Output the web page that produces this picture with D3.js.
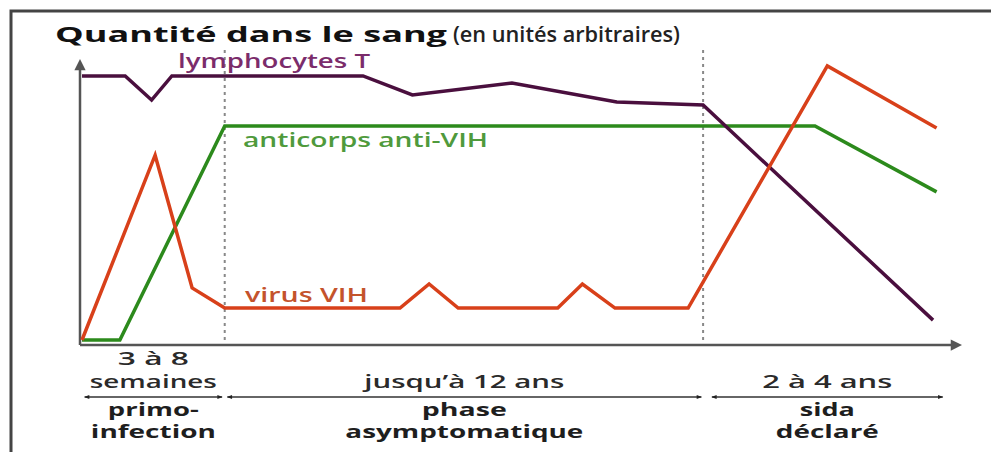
<!DOCTYPE html>
<html>
<head>
<meta charset="utf-8">
<script src="https://cdn.jsdelivr.net/npm/d3@7"></script>
<style>
  body { margin: 0; background: #fff; }
  text { font-family: "Open Sans", "Noto Sans", sans-serif; }
</style>
</head>
<body>
<div class="chart"></div>
<script>
var svgWidth = 991;
var svgHeight = 452;

// data (arbitrary time units 0-100, arbitrary quantity 0-100)
var lymphoX = [0, 4.9, 7.9, 10.2, 31.9, 37.5, 48.8, 60.7, 70.5, 96.6];
var lymphoY = [94.3, 94.3, 85.7, 94.3, 94.3, 87.5, 91.8, 85, 83.9, 7.1];

var anticorpsX = [0, 4.3, 16.2, 83.2, 97.0];
var anticorpsY = [0, 0, 76.4, 76.4, 52.9];

var virusX = [0, 8.3, 12.5, 16.2, 36.1, 39.4, 42.7, 54.0, 56.8, 60.5, 68.8, 84.6, 97.0];
var virusY = [0, 66, 18.6, 11.4, 11.4, 20, 11.4, 11.4, 20, 11.4, 11.4, 97.9, 75.7];

var phaseBounds = [16.2, 70.5];
var phaseStart = [0.3, 16.5, 71.5];
var phaseEnd = [15.9, 70.3, 97.7];
var durationLabels = [["3 à 8", "semaines"], ["jusqu\u2019à 12 ans"], ["2 à 4 ans"]];
var phaseLabels = [["primo-", "infection"], ["phase", "asymptomatique"], ["sida", "déclaré"]];

var svg = d3.select(".chart")
  .append("svg")
  .attr("width", svgWidth)
  .attr("height", svgHeight);

var x = d3.scaleLinear().domain([0, 100]).range([82, 963]);
var y = d3.scaleLinear().domain([0, 100]).range([340, 60]);

var axisY = 345;
var axisX = 80;

// text helper, stretched to the width seen in the reference
function addText(str, tx, ty, size, weight, color, len, anchor) {
  return svg.append("text")
    .attr("x", tx)
    .attr("y", ty)
    .attr("font-size", size)
    .attr("font-weight", weight)
    .attr("fill", color)
    .attr("text-anchor", anchor || "start")
    .attr("textLength", len)
    .attr("lengthAdjust", "spacingAndGlyphs")
    .text(str);
}

// frame
svg.append("path")
  .attr("d", "M11,452 L11,11 L991,11")
  .attr("fill", "none")
  .attr("stroke", "#444")
  .attr("stroke-width", 3);

// title
addText("Quantité dans le sang", 55, 42, 21, "bold", "#111", 392);
addText("(en unités arbitraires)", 453, 42, 21, 600, "#222", 227);

// arrow markers
var defs = svg.append("defs");
defs.append("marker")
  .attr("id", "axisArrow")
  .attr("viewBox", "0 0 10 10")
  .attr("refX", 2).attr("refY", 5)
  .attr("markerWidth", 5).attr("markerHeight", 4.5)
  .attr("markerUnits", "strokeWidth")
  .attr("orient", "auto")
  .append("path").attr("d", "M0,0 L10,5 L0,10 z").attr("fill", "#555");
defs.append("marker")
  .attr("id", "smallArrow")
  .attr("viewBox", "0 0 10 10")
  .attr("refX", 9).attr("refY", 5)
  .attr("markerWidth", 8).attr("markerHeight", 4)
  .attr("markerUnits", "strokeWidth")
  .attr("orient", "auto-start-reverse")
  .append("path").attr("d", "M0,1 L10,5 L0,9 z").attr("fill", "#222");

// dotted phase separators
svg.selectAll(".sep")
  .data(phaseBounds)
  .enter()
  .append("line")
  .attr("class", "sep")
  .attr("x1", d => x(d)).attr("x2", d => x(d))
  .attr("y1", 50).attr("y2", axisY)
  .attr("stroke", "#888")
  .attr("stroke-width", 2)
  .attr("stroke-dasharray", "3,4");

// axes
svg.append("line")
  .attr("x1", axisX).attr("y1", axisY)
  .attr("x2", axisX).attr("y2", 68)
  .attr("stroke", "#555").attr("stroke-width", 2.5)
  .attr("marker-end", "url(#axisArrow)");
svg.append("line")
  .attr("x1", axisX).attr("y1", axisY)
  .attr("x2", 953).attr("y2", axisY)
  .attr("stroke", "#555").attr("stroke-width", 2.5)
  .attr("marker-end", "url(#axisArrow)");

// curves
var line = d3.line()
  .x(d => x(d[0]))
  .y(d => y(d[1]));

var series = [
  { xs: anticorpsX, ys: anticorpsY, color: "#2c8a1c" },
  { xs: lymphoX, ys: lymphoY, color: "#4a0f3e" },
  { xs: virusX, ys: virusY, color: "#d8401a" }
];

series.forEach(function(s) {
  var pts = s.xs.map((v, i) => [v, s.ys[i]]);
  svg.append("path")
    .datum(pts)
    .attr("d", line)
    .attr("fill", "none")
    .attr("stroke", s.color)
    .attr("stroke-width", 3.5)
    .attr("stroke-linejoin", "miter");
});

// curve labels
addText("lymphocytes T", 178, 68, 19, 600, "#7b2c6b", 192);
addText("anticorps anti-VIH", 243, 147, 19, 600, "#4f9a3c", 245);
addText("virus VIH", 245, 302, 19, 600, "#c4532c", 123);

// phases below axis
var lineY = 397;
var durWidths = [[71, 127], [200], [130]];
var phaseWidths = [[91, 125], [85, 238], [55, 103]];
phaseStart.forEach(function(s, i) {
  var cx = x((s + phaseEnd[i]) / 2);
  svg.append("line")
    .attr("x1", x(s)).attr("x2", x(phaseEnd[i]))
    .attr("y1", lineY).attr("y2", lineY)
    .attr("stroke", "#333").attr("stroke-width", 1.3)
    .attr("marker-start", "url(#smallArrow)")
    .attr("marker-end", "url(#smallArrow)");

  var dl = durationLabels[i];
  dl.forEach(function(t, j) {
    addText(t, cx, 388 - (dl.length - 1 - j) * 23, 17.5, 600, "#2a2a2a", durWidths[i][j], "middle");
  });

  phaseLabels[i].forEach(function(t, j) {
    addText(t, cx, 416 + j * 22, 17.5, "bold", "#1e1e1e", phaseWidths[i][j], "middle");
  });
});
</script>
</body>
</html>
